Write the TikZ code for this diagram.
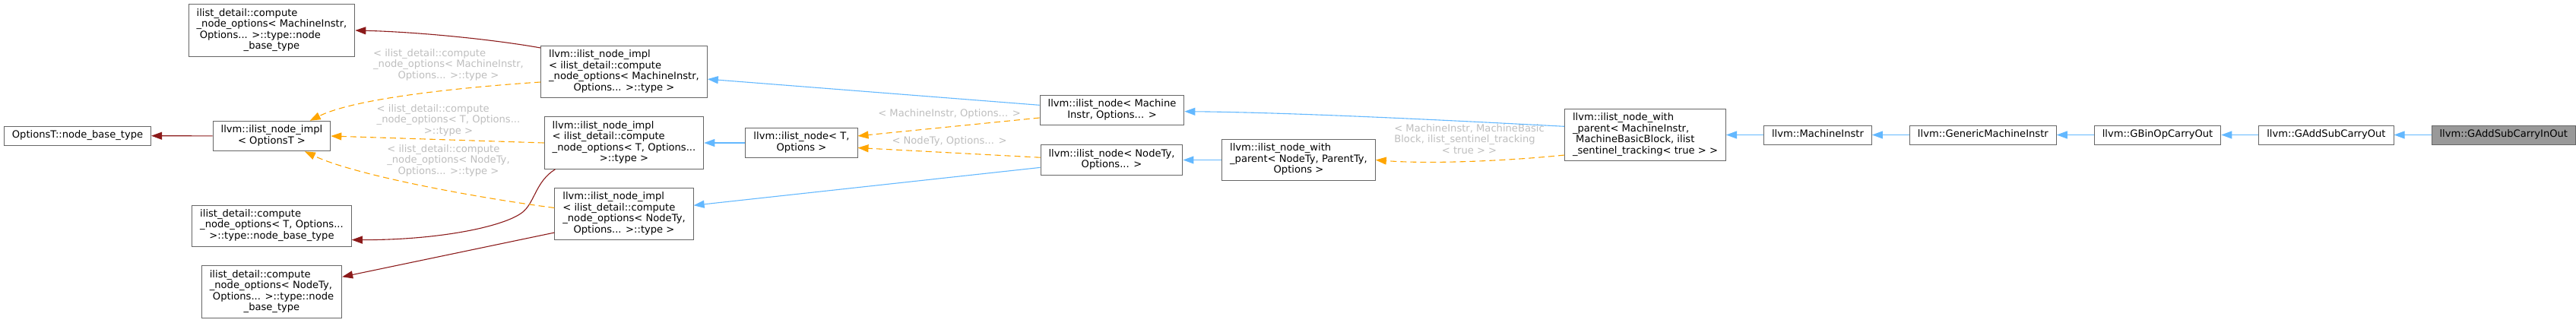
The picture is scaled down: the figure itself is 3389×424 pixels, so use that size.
\documentclass[tikz,border=0pt]{standalone}
\usepackage{fontspec}
\setmainfont{DejaVu Sans}
\usetikzlibrary{arrows.meta,positioning}
\definecolor{boxgray}{HTML}{666666}
\definecolor{focusfill}{HTML}{999999}
\definecolor{pubblue}{HTML}{63B8FF}
\definecolor{privred}{HTML}{8B1A1A}
\definecolor{tmplorange}{HTML}{FFA500}
\definecolor{labelgray}{HTML}{BEBEBE}
\newcommand{\lastln}[1]{\multicolumn{1}{@{}c@{}}{#1}}
\newcommand{\dlines}[1]{\begin{tabular}{@{}l@{}}#1\end{tabular}}
\begin{document}
\begin{tikzpicture}[x=1pt,y=-1pt,node distance=49pt,font={\fontsize{13.1}{14.5}\selectfont},
    class node/.style={draw=boxgray,fill=white,line width=1pt,inner xsep=10.5pt,inner ysep=5.25pt},
    focus node/.style={class node,fill=focusfill},
    edge label/.style={text=labelgray,inner sep=0pt},
    pub/.style={draw=pubblue,line width=1.1pt,-{Triangle[length=14pt,width=10pt]}},
    priv/.style={pub,draw=privred},
    tmpl/.style={pub,draw=tmplorange,dash pattern=on 8pt off 5pt}]
    \useasboundingbox (0,0) rectangle (3389,424);
    \node[class node] (ontbt) at (102,178.5) {\dlines{OptionsT::node\_base\_type}};
    \node[class node] (implopt) at (357.5,179) {\dlines{llvm::ilist\_node\_impl\\\lastln{< OptionsT >}}};
    \node[class node] (cnoMI) at (357.5,40) {\dlines{ilist\_detail::compute\\\_node\_options< MachineInstr,\\\ Options... >::type::node\\\lastln{\_base\_type}}};
    \node[class node] (cnoT) at (357.5,297) {\dlines{ilist\_detail::compute\\\_node\_options< T, Options...\\\lastln{>::type::node\_base\_type}}};
    \node[class node] (cnoNT) at (357.5,384) {\dlines{ilist\_detail::compute\\\_node\_options< NodeTy,\\\ Options... >::type::node\\\lastln{\_base\_type}}};
    \node[class node] (implMI) at (821,94.5) {\dlines{llvm::ilist\_node\_impl\\< ilist\_detail::compute\\\_node\_options< MachineInstr,\\\lastln{Options... >::type >}}};
    \node[class node] (implT) at (821,188) {\dlines{llvm::ilist\_node\_impl\\< ilist\_detail::compute\\\_node\_options< T, Options...\\\lastln{>::type >}}};
    \node[class node] (implNT) at (821,281.5) {\dlines{llvm::ilist\_node\_impl\\< ilist\_detail::compute\\\_node\_options< NodeTy,\\\lastln{Options... >::type >}}};
    \node[class node] (nodeT) at (1054.5,188) {\dlines{llvm::ilist\_node< T,\\\lastln{Options >}}};
    \node[class node] (nodeMI) at (1463,145) {\dlines{llvm::ilist\_node< Machine\\\lastln{Instr, Options... >}}};
    \node[class node] (nodeNT) at (1462.5,210.5) {\dlines{llvm::ilist\_node< NodeTy,\\\lastln{Options... >}}};
    \node[class node] (wpNT) at (1708.5,210.5) {\dlines{llvm::ilist\_node\_with\\\_parent< NodeTy, ParentTy,\\\lastln{Options >}}};
    \node[class node] (wpMI) at (2164.5,177.5) {\dlines{llvm::ilist\_node\_with\\\_parent< MachineInstr,\\\ MachineBasicBlock, ilist\\\lastln{\_sentinel\_tracking< true > >}}};
    \node[class node] (mi) [right=of wpMI] {\dlines{llvm::MachineInstr}};
    \node[class node] (gmi) [right=of mi] {\dlines{llvm::GenericMachineInstr}};
    \node[class node] (gbin) [right=of gmi] {\dlines{llvm::GBinOpCarryOut}};
    \node[class node] (gasco) [right=of gbin] {\dlines{llvm::GAddSubCarryOut}};
    \node[focus node] (gascio) [right=of gasco] {\dlines{llvm::GAddSubCarryInOut}};
    \node[edge label] (lbimplMI) at (590,86) {\dlines{< ilist\_detail::compute\\\_node\_options< MachineInstr,\\\lastln{Options... >::type >}}};
    \node[edge label] (lbimplT) at (590,159) {\dlines{< ilist\_detail::compute\\\_node\_options< T, Options...\\\lastln{>::type >}}};
    \node[edge label] (lbimplNT) at (590,212) {\dlines{< ilist\_detail::compute\\\_node\_options< NodeTy,\\\lastln{Options... >::type >}}};
    \node[edge label] (lbnodeMI) at (1249,151) {\dlines{< MachineInstr, Options... >}};
    \node[edge label] (lbnodeNT) at (1249,187) {\dlines{< NodeTy, Options... >}};
    \node[edge label] (lbwpMI) at (1933,185) {\dlines{< MachineInstr, MachineBasic\\Block, ilist\_sentinel\_tracking\\\lastln{< true > >}}};
    \path (implopt) edge[priv] (ontbt);
    \draw[priv] (implMI.164) .. controls (650,52) and (550,42) .. (cnoMI.east);
    \draw[priv] (implT.201) .. controls (706,238) and (704,263) .. (690,277) .. controls (670,297) and (580,316) .. (cnoT.350);
    \path (implNT.195) edge[priv] (cnoNT.12);
    \draw[tmpl] (implMI.187) .. controls (620,114) and (470,128) .. (implopt.22);
    \path (implT.west) edge[tmpl] (implopt.east);
    \draw[tmpl] (implNT.175) .. controls (640,262) and (470,232) .. (implopt.335);
    \path (nodeT) edge[pub] (implT);
    \path (nodeMI.176) edge[pub] (implMI.355);
    \path (nodeNT.186) edge[pub] (implNT.7);
    \path (nodeMI.186) edge[tmpl] (nodeT.7);
    \path (nodeNT.178) edge[tmpl] (nodeT.355);
    \path (wpNT) edge[pub] (nodeNT);
    \draw[pub] (wpMI.174) .. controls (1900,158) and (1700,148) .. (nodeMI.359);
    \draw[tmpl] (wpMI.194) .. controls (1980,212) and (1880,216) .. (wpNT.east);
    \path (mi) edge[pub] (wpMI);
    \path (gmi) edge[pub] (mi);
    \path (gbin) edge[pub] (gmi);
    \path (gasco) edge[pub] (gbin);
    \path (gascio) edge[pub] (gasco);
\end{tikzpicture}
\end{document}
